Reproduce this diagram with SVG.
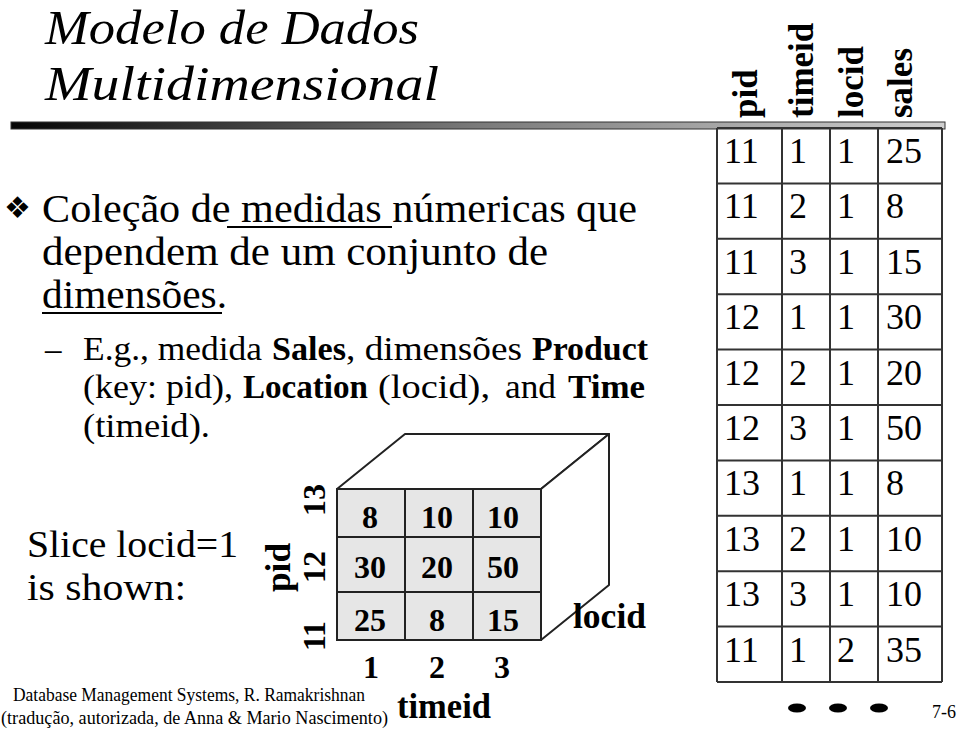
<svg xmlns="http://www.w3.org/2000/svg" width="959" height="734" viewBox="0 0 959 734">
<defs>
<linearGradient id="barGrad" x1="0" y1="0" x2="1" y2="0">
<stop offset="0" stop-color="#050505"/>
<stop offset="0.5" stop-color="#7a7a7a"/>
<stop offset="1" stop-color="#d0d0d0"/>
</linearGradient>
<style>
text{font-family:"Liberation Serif","Times New Roman",serif;fill:#000}
.title{font-size:49px;font-style:italic}
.body{font-size:40px}
.sub{font-size:33px}
.b{font-weight:bold}
.slice{font-size:38px}
.foot{font-size:18px}
.cell{font-size:36px}
.hdr{font-size:35px;font-weight:bold}
.cube{font-size:32px;font-weight:bold}
.ax{font-size:35px;font-weight:bold}
.grid{stroke:#333;stroke-width:2;fill:none}
.edge{stroke:#222;stroke-width:2}
.ul{stroke:#000;stroke-width:2}
</style>
</defs>
<rect width="959" height="734" fill="#fff"/>

<g id="title">
<text class="title" x="45" y="44" textLength="374" lengthAdjust="spacingAndGlyphs">Modelo de Dados</text>
<text class="title" x="45" y="100" textLength="394" lengthAdjust="spacingAndGlyphs">Multidimensional</text>
<rect x="11" y="122" width="934" height="7" fill="url(#barGrad)" stroke="#333" stroke-width="1"/>
</g>

<g id="bullets">
<text x="4" y="218" style="font-family:'DejaVu Sans',sans-serif;font-size:30px">❖</text>
<text class="body" x="42" y="222" textLength="595" lengthAdjust="spacingAndGlyphs">Coleção de medidas númericas que</text>
<line class="ul" x1="227" y1="227" x2="392" y2="227"/>
<text class="body" x="42" y="265" textLength="506" lengthAdjust="spacingAndGlyphs">dependem de um conjunto de</text>
<text class="body" x="42" y="308" textLength="185" lengthAdjust="spacingAndGlyphs">dimensões.</text>
<line class="ul" x1="42" y1="313" x2="222" y2="313"/>
<text class="sub" x="45" y="360">–</text>
<text class="sub" x="83" y="360" textLength="179" lengthAdjust="spacingAndGlyphs">E.g., medida</text>
<text class="sub b" x="272" y="360" textLength="74" lengthAdjust="spacingAndGlyphs">Sales</text>
<text class="sub" x="346" y="360" textLength="176" lengthAdjust="spacingAndGlyphs">, dimensões</text>
<text class="sub b" x="532" y="360" textLength="116" lengthAdjust="spacingAndGlyphs">Product</text>
<text class="sub" x="83" y="398" textLength="150" lengthAdjust="spacingAndGlyphs">(key: pid),</text>
<text class="sub b" x="243" y="398" textLength="125" lengthAdjust="spacingAndGlyphs">Location</text>
<text class="sub" x="378" y="398" textLength="112" lengthAdjust="spacingAndGlyphs">(locid),</text>
<text class="sub" x="505" y="398" textLength="51" lengthAdjust="spacingAndGlyphs">and</text>
<text class="sub b" x="568" y="398" textLength="77" lengthAdjust="spacingAndGlyphs">Time</text>
<text class="sub" x="83" y="437" textLength="127" lengthAdjust="spacingAndGlyphs">(timeid).</text>
</g>

<g id="slice-label">
<text class="slice" x="27" y="557" textLength="211" lengthAdjust="spacingAndGlyphs">Slice locid=1</text>
<text class="slice" x="27" y="600" textLength="159" lengthAdjust="spacingAndGlyphs">is shown:</text>
</g>

<g id="cube">
<polygon points="337,489 405,434 609,434 541,489" fill="#fff" class="edge" stroke-linejoin="round"/>
<polygon points="541,489 609,434 609,585 541,640" fill="#fff" class="edge" stroke-linejoin="round"/>
<rect x="337" y="489" width="204" height="151" fill="#e6e6e6" class="edge"/>
<line class="edge" x1="405" y1="489" x2="405" y2="640"/>
<line class="edge" x1="473" y1="489" x2="473" y2="640"/>
<line class="edge" x1="337" y1="537" x2="541" y2="537"/>
<line class="edge" x1="337" y1="592" x2="541" y2="592"/>
<g class="cube" text-anchor="middle">
<text class="cube" x="370" y="528">8</text>
<text class="cube" x="437" y="528">10</text>
<text class="cube" x="503" y="528">10</text>
<text class="cube" x="370" y="578">30</text>
<text class="cube" x="437" y="578">20</text>
<text class="cube" x="503" y="578">50</text>
<text class="cube" x="370" y="631">25</text>
<text class="cube" x="437" y="631">8</text>
<text class="cube" x="503" y="631">15</text>
</g>
</g>

<g id="cube-axes">
<g text-anchor="middle">
<text class="cube" x="371" y="678">1</text>
<text class="cube" x="437" y="678">2</text>
<text class="cube" x="502" y="678">3</text>
<text class="cube" transform="translate(325,500) rotate(-90)">13</text>
<text class="cube" transform="translate(325,567) rotate(-90)">12</text>
<text class="cube" transform="translate(325,636) rotate(-90)">11</text>
</g>
<text class="ax" x="397" y="718" textLength="94" lengthAdjust="spacingAndGlyphs">timeid</text>
<text class="ax" x="573" y="628" textLength="73" lengthAdjust="spacingAndGlyphs">locid</text>
<text class="ax" transform="translate(290,592) rotate(-90)" textLength="49" lengthAdjust="spacingAndGlyphs">pid</text>
</g>

<g id="table">
<g class="grid">
<line x1="717" y1="128" x2="717" y2="682"/>
<line x1="782" y1="128" x2="782" y2="682"/>
<line x1="830" y1="128" x2="830" y2="682"/>
<line x1="878" y1="128" x2="878" y2="682"/>
<line x1="942" y1="128" x2="942" y2="682"/>
<line x1="717" y1="128" x2="942" y2="128"/>
<line x1="717" y1="183.4" x2="942" y2="183.4"/>
<line x1="717" y1="238.8" x2="942" y2="238.8"/>
<line x1="717" y1="294.2" x2="942" y2="294.2"/>
<line x1="717" y1="349.6" x2="942" y2="349.6"/>
<line x1="717" y1="405" x2="942" y2="405"/>
<line x1="717" y1="460.4" x2="942" y2="460.4"/>
<line x1="717" y1="515.8" x2="942" y2="515.8"/>
<line x1="717" y1="571.2" x2="942" y2="571.2"/>
<line x1="717" y1="626.6" x2="942" y2="626.6"/>
<line x1="717" y1="682" x2="942" y2="682"/>
</g>
<text class="hdr" transform="translate(757,118) rotate(-90)">pid</text>
<text class="hdr" transform="translate(813,118) rotate(-90)">timeid</text>
<text class="hdr" transform="translate(863,118) rotate(-90)">locid</text>
<text class="hdr" transform="translate(912,118) rotate(-90)">sales</text>
<g class="cell">
<text class="cell" x="724" y="163">11</text><text class="cell" x="789" y="163">1</text><text class="cell" x="837" y="163">1</text><text class="cell" x="886" y="163">25</text>
<text class="cell" x="724" y="218.4">11</text><text class="cell" x="789" y="218.4">2</text><text class="cell" x="837" y="218.4">1</text><text class="cell" x="886" y="218.4">8</text>
<text class="cell" x="724" y="273.8">11</text><text class="cell" x="789" y="273.8">3</text><text class="cell" x="837" y="273.8">1</text><text class="cell" x="886" y="273.8">15</text>
<text class="cell" x="724" y="329.2">12</text><text class="cell" x="789" y="329.2">1</text><text class="cell" x="837" y="329.2">1</text><text class="cell" x="886" y="329.2">30</text>
<text class="cell" x="724" y="384.6">12</text><text class="cell" x="789" y="384.6">2</text><text class="cell" x="837" y="384.6">1</text><text class="cell" x="886" y="384.6">20</text>
<text class="cell" x="724" y="440">12</text><text class="cell" x="789" y="440">3</text><text class="cell" x="837" y="440">1</text><text class="cell" x="886" y="440">50</text>
<text class="cell" x="724" y="495.4">13</text><text class="cell" x="789" y="495.4">1</text><text class="cell" x="837" y="495.4">1</text><text class="cell" x="886" y="495.4">8</text>
<text class="cell" x="724" y="550.8">13</text><text class="cell" x="789" y="550.8">2</text><text class="cell" x="837" y="550.8">1</text><text class="cell" x="886" y="550.8">10</text>
<text class="cell" x="724" y="606.2">13</text><text class="cell" x="789" y="606.2">3</text><text class="cell" x="837" y="606.2">1</text><text class="cell" x="886" y="606.2">10</text>
<text class="cell" x="724" y="661.6">11</text><text class="cell" x="789" y="661.6">1</text><text class="cell" x="837" y="661.6">2</text><text class="cell" x="886" y="661.6">35</text>
</g>
<g id="ellipsis" fill="#000">
<ellipse cx="797" cy="708" rx="9" ry="4.5"/>
<ellipse cx="838" cy="708" rx="9" ry="4.5"/>
<ellipse cx="879" cy="708" rx="9" ry="4.5"/>
</g>
</g>

<g id="footer">
<text class="foot" x="13" y="701" textLength="352" lengthAdjust="spacingAndGlyphs">Database Management Systems, R. Ramakrishnan</text>
<text class="foot" x="1" y="724" textLength="387" lengthAdjust="spacingAndGlyphs">(tradução, autorizada, de Anna &amp; Mario Nascimento)</text>
<text class="foot" x="932" y="718">7-6</text>
</g>
</svg>
